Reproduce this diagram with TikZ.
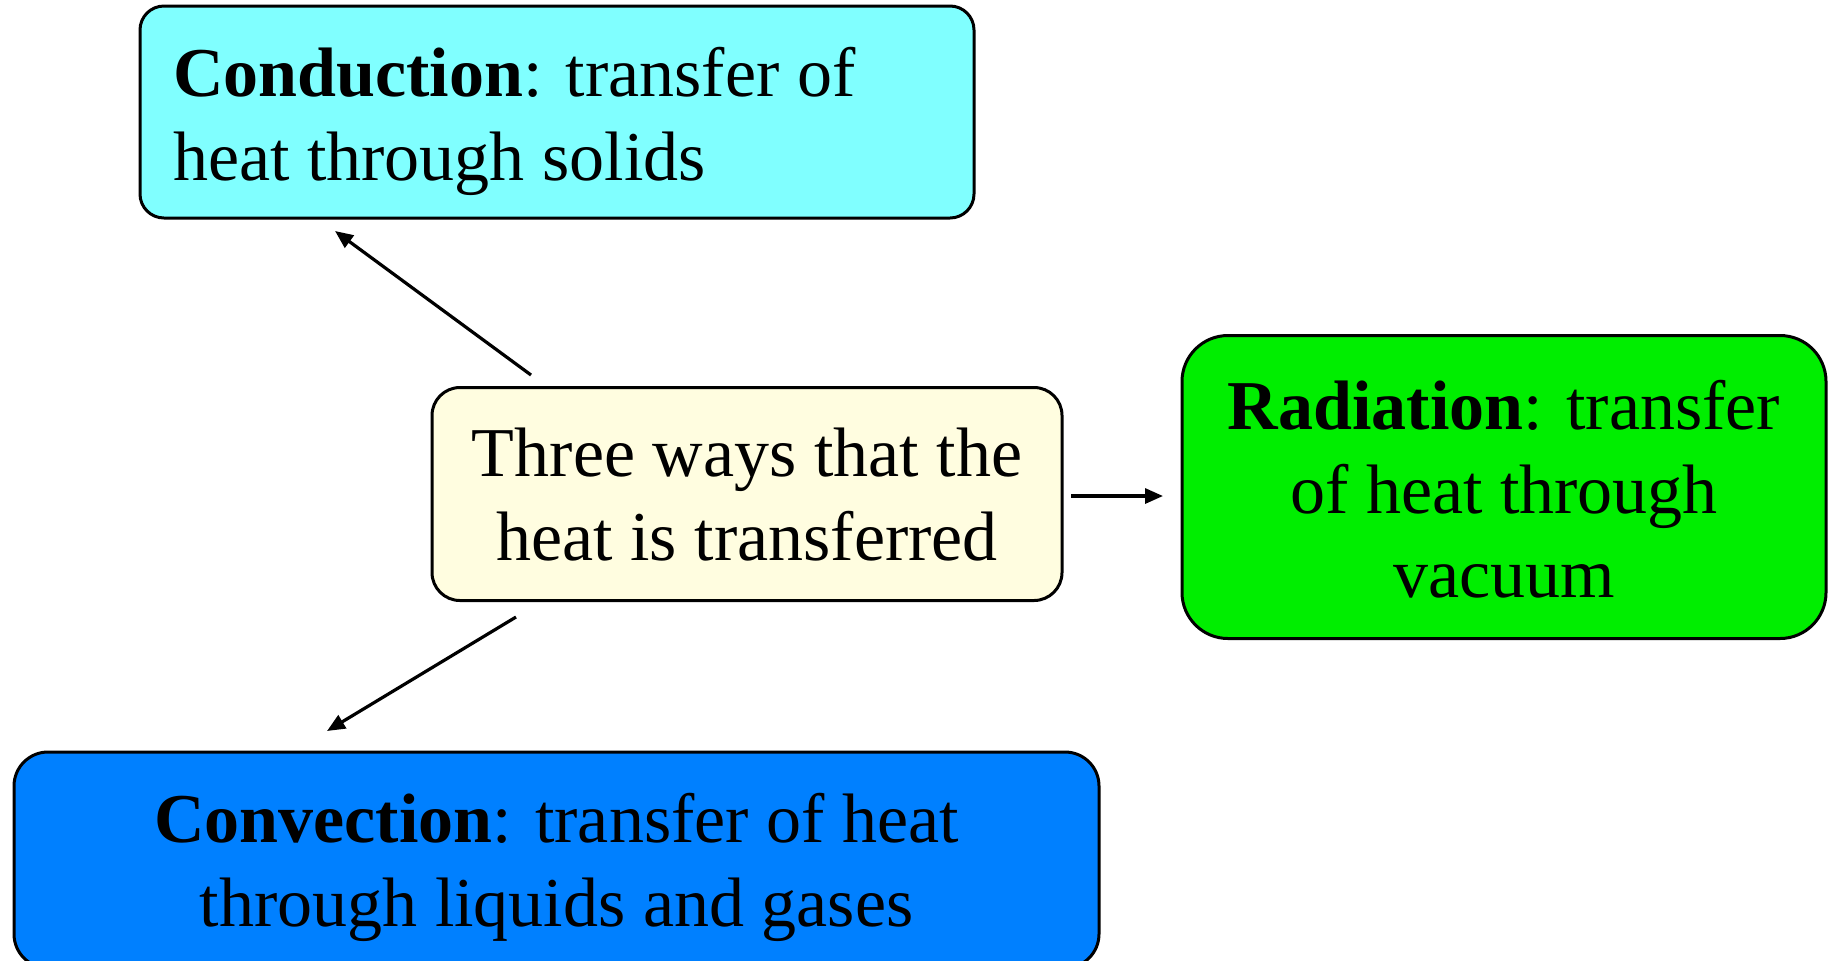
\documentclass[tikz,border=0pt]{standalone}
\usepackage{fontspec}
\setmainfont{Liberation Serif}
\usetikzlibrary{arrows.meta}
\definecolor{condc}{HTML}{80FFFF}
\definecolor{centc}{HTML}{FFFDE0}
\definecolor{radc}{HTML}{00EE00}
\definecolor{convc}{HTML}{0080FF}
% #1 = height of first baseline above the node centre
\newcommand{\lblock}[2]{\raisebox{#1}[0pt][0pt]{\begin{tabular}[t]{@{}l@{}}#2\end{tabular}}}
\newcommand{\cblock}[2]{\raisebox{#1}[0pt][0pt]{\begin{tabular}[t]{@{}c@{}}#2\end{tabular}}}
\tikzset{
  box/.style={draw=black, line width=1.5pt, rectangle, inner sep=0pt,
    font=\fontsize{35pt}{42pt}\selectfont},
  link/.style={line width=1.6pt, -{Triangle[length=9pt,width=7.5pt]}}
}
\begin{document}
\begin{tikzpicture}[x=0.5pt,y=-0.5pt]
\useasboundingbox (0,0) rectangle (1829,960);
\begin{scope}
\clip (0,0) rectangle (1829,960);
\node[box, fill=condc, rounded corners=12pt, minimum width=417pt, minimum height=106pt] (cond) at (557,112)
  {\makebox[384pt][l]{\lblock{8pt}{\textbf{Conduction}: transfer of\\heat through solids}}};
\node[box, fill=centc, rounded corners=14pt, minimum width=315pt, minimum height=106.5pt] (cent) at (747,494)
  {\cblock{9pt}{Three ways that the\\heat is transferred}};
\node[box, fill=radc, rounded corners=23pt, minimum width=322pt, minimum height=151.5pt] (rad) at (1504,487)
  {\cblock{29pt}{\textbf{Radiation}: transfer\\of heat through\\vacuum}};
\node[box, fill=convc, rounded corners=17pt, minimum width=542.5pt, minimum height=108pt] (conv) at (556.5,860)
  {\cblock{9pt}{\textbf{Convection}: transfer of heat\\through liquids and gases}};
\end{scope}
\coordinate (t1) at (531,375);
\coordinate (h1) at (335,231);
\coordinate (t2) at (1071,496);
\coordinate (h2) at (1163,496);
\coordinate (t3) at (516,617);
\coordinate (h3) at (327,731);
\draw[link] (t1) -- (h1);
\draw[link] (t2) -- (h2);
\draw[link] (t3) -- (h3);
\end{tikzpicture}
\end{document}
